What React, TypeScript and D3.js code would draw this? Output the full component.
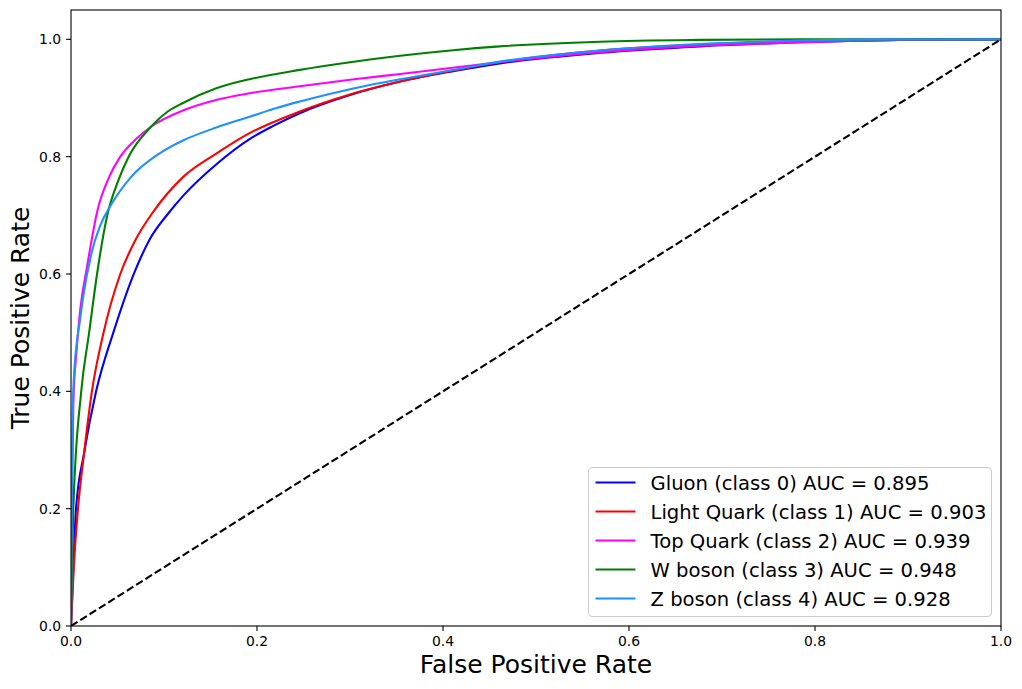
import * as d3 from "d3";

// ROC curve points (false positive rate / true positive rate)
const gluonFpr = [0, 0.0025, 0.0054, 0.014, 0.027, 0.0455, 0.068, 0.085, 0.105, 0.121, 0.157, 0.192, 0.217, 0.246, 0.3, 0.354, 0.408, 0.461, 0.569, 0.676, 0.784, 0.89, 1];
const gluonTpr = [0, 0.1, 0.2, 0.294, 0.4, 0.5, 0.602, 0.66, 0.704, 0.734, 0.788, 0.83, 0.852, 0.874, 0.905, 0.928, 0.945, 0.959, 0.977, 0.988, 0.995, 0.999, 1];

const lightFpr = [0, 0.003, 0.0075, 0.014, 0.0225, 0.035, 0.053, 0.07, 0.088, 0.121, 0.157, 0.192, 0.246, 0.3, 0.354, 0.408, 0.461, 0.569, 0.676, 0.784, 0.89, 1];
const lightTpr = [0, 0.1, 0.2, 0.294, 0.4, 0.5, 0.6, 0.66, 0.705, 0.766, 0.806, 0.84, 0.877, 0.906, 0.928, 0.946, 0.961, 0.981, 0.991, 0.996, 0.999, 1];

const topFpr = [0, 0.001, 0.0025, 0.006, 0.01, 0.017, 0.0287, 0.041, 0.053, 0.07, 0.086, 0.121, 0.157, 0.192, 0.246, 0.3, 0.354, 0.408, 0.461, 0.569, 0.676, 0.784, 0.89, 1];
const topTpr = [0, 0.2, 0.38, 0.47, 0.54, 0.61, 0.71, 0.765, 0.8, 0.83, 0.851, 0.879, 0.897, 0.908, 0.92, 0.931, 0.941, 0.951, 0.961, 0.978, 0.989, 0.995, 0.999, 1];

const wFpr = [0, 0.001, 0.0025, 0.011, 0.0195, 0.028, 0.039, 0.051, 0.062, 0.086, 0.104, 0.121, 0.157, 0.192, 0.246, 0.3, 0.354, 0.408, 0.461, 0.569, 0.676, 0.784, 1];
const wTpr = [0, 0.1, 0.2, 0.4, 0.5, 0.6, 0.7, 0.76, 0.8, 0.851, 0.877, 0.892, 0.917, 0.932, 0.948, 0.961, 0.972, 0.981, 0.988, 0.996, 0.999, 1, 1];

const zFpr = [0, 0.001, 0.003, 0.0097, 0.0126, 0.022, 0.031, 0.042, 0.065, 0.0957, 0.121, 0.157, 0.192, 0.221, 0.246, 0.3, 0.354, 0.408, 0.461, 0.569, 0.676, 0.784, 0.89, 1];
const zTpr = [0, 0.25, 0.42, 0.522, 0.556, 0.635, 0.681, 0.715, 0.766, 0.806, 0.828, 0.85, 0.868, 0.883, 0.894, 0.915, 0.932, 0.947, 0.962, 0.981, 0.992, 0.998, 1, 1];

const seriesLabels = [
  "Gluon (class 0) AUC = 0.895",
  "Light Quark (class 1) AUC = 0.903",
  "Top Quark (class 2) AUC = 0.939",
  "W boson (class 3) AUC = 0.948",
  "Z boson (class 4) AUC = 0.928",
];
const seriesColors = ["#0000ff", "#ff0000", "#ff00ff", "#008000", "#1e90ff"];
const seriesFpr = [gluonFpr, lightFpr, topFpr, wFpr, zFpr];
const seriesTpr = [gluonTpr, lightTpr, topTpr, wTpr, zTpr];

const tickValues = [0, 0.2, 0.4, 0.6, 0.8, 1.0];
const diagonal = [0, 1];

const W = 1022;
const H = 689;
const margin = { left: 71, right: 21, top: 10, bottom: 63 };
const font = "'DejaVu Sans', sans-serif";

export default function App() {
  const x = d3.scaleLinear().domain([0, 1]).range([margin.left, W - margin.right]);
  const y = d3.scaleLinear().domain([0, 1.05]).range([H - margin.bottom, margin.top]);

  const line = d3
    .line<[number, number]>()
    .x((d) => x(d[0]))
    .y((d) => y(d[1]))
    .curve(d3.curveMonotoneX);

  const plotW = W - margin.left - margin.right;
  const plotH = H - margin.top - margin.bottom;

  // legend box (lower right)
  const legW = 403;
  const legH = 149;
  const legX = x(1) - 9.5 - legW;
  const legY = y(0) - 9.5 - legH;
  const rowH = 29;

  return (
    <div style={{ position: "fixed", left: 0, top: 0 }}>
      <svg width={W} height={H} style={{ display: "block", background: "#fff" }}>
        <defs>
          <clipPath id="plot-clip">
            <rect x={margin.left} y={margin.top} width={plotW} height={plotH} />
          </clipPath>
        </defs>

        <g clipPath="url(#plot-clip)">
          {seriesFpr.map((fpr, i) => (
            <path
              key={i}
              d={line(fpr.map((f, j) => [f, seriesTpr[i][j]] as [number, number])) || ""}
              fill="none"
              stroke={seriesColors[i]}
              strokeWidth={2.1}
              strokeLinejoin="round"
            />
          ))}
          <line
            x1={x(diagonal[0])}
            y1={y(diagonal[0])}
            x2={x(diagonal[1])}
            y2={y(diagonal[1])}
            stroke="#000"
            strokeWidth={2.1}
            strokeDasharray="7.7,3.3"
          />
        </g>

        {/* frame */}
        <rect
          x={margin.left}
          y={margin.top}
          width={plotW}
          height={plotH}
          fill="none"
          stroke="#000"
          strokeWidth={1.1}
        />

        {/* x ticks */}
        {tickValues.map((t) => (
          <g key={"x" + t}>
            <line x1={x(t)} x2={x(t)} y1={y(0)} y2={y(0) + 4.9} stroke="#000" strokeWidth={1.1} />
            <text x={x(t)} y={y(0) + 20} textAnchor="middle" fontFamily={font} fontSize={13.9} fill="#000">
              {t.toFixed(1)}
            </text>
          </g>
        ))}

        {/* y ticks */}
        {tickValues.map((t) => (
          <g key={"y" + t}>
            <line x1={x(0) - 4.9} x2={x(0)} y1={y(t)} y2={y(t)} stroke="#000" strokeWidth={1.1} />
            <text x={x(0) - 9.8} y={y(t) + 5} textAnchor="end" fontFamily={font} fontSize={13.9} fill="#000">
              {t.toFixed(1)}
            </text>
          </g>
        ))}

        {/* axis labels */}
        <text x={x(0.5)} y={673} textAnchor="middle" fontFamily={font} fontSize={25} fill="#000">
          False Positive Rate
        </text>
        <text
          transform={`translate(29, ${y(0.525)}) rotate(-90)`}
          textAnchor="middle"
          fontFamily={font}
          fontSize={25}
          fill="#000"
        >
          True Positive Rate
        </text>

        {/* legend */}
        <rect
          x={legX}
          y={legY}
          width={legW}
          height={legH}
          rx={4}
          fill="#fff"
          fillOpacity={0.8}
          stroke="#cccccc"
          strokeWidth={1.1}
        />
        {seriesLabels.map((label, i) => {
          const cy = legY + 15 + i * rowH;
          return (
            <g key={label}>
              <line x1={legX + 7} x2={legX + 47} y1={cy} y2={cy} stroke={seriesColors[i]} strokeWidth={2.1} />
              <text x={legX + 62} y={cy + 7} fontFamily={font} fontSize={19.6} fill="#000">
                {label}
              </text>
            </g>
          );
        })}
      </svg>
    </div>
  );
}
